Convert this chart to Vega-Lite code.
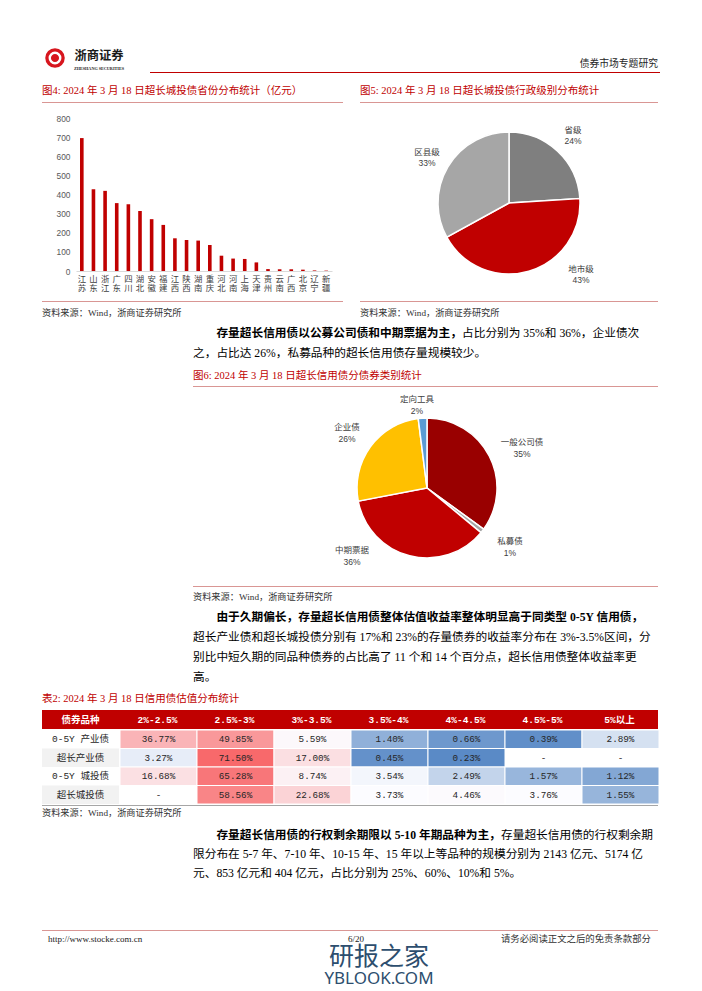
{
"$schema":"https://vega.github.io/schema/vega-lite/v6.json",
"padding":0,
"background":"white",
"spacing":0,
"resolve":{"scale":{"color":"independent","theta":"independent"}},
"config":{
 "view":{"stroke":null},
 "text":{"font":"'Liberation Serif', 'Noto Sans CJK SC'","fontSize":11.7,"color":"#000000","baseline":"middle"}
},
"vconcat":[
 {"hconcat":[
  {"width":43,"height":80,"data":{"values":[]},"mark":"point"},
  {"vconcat":[
   {"width":24,"height":47,"data":{"values":[]},"mark":"point"},
   {"width":24,"height":22,"data":{"values":[{"brand":"浙商证券"}]},"layer":[
     {"mark":{"type":"point","shape":"circle","filled":true,"color":"#d7161e","opacity":1,"size":380}},
     {"mark":{"type":"point","shape":"circle","filled":false,"color":"#ffffff","opacity":1,"size":110,"strokeWidth":2.4}}
   ]},
   {"width":24,"height":11,"data":{"values":[]},"mark":"point"}
  ],"spacing":0},
  {"width":6,"height":80,"data":{"values":[]},"mark":"point"},
  {"vconcat":[
   {"width":50,"height":47,"data":{"values":[]},"mark":"point"},
   {"width":50,"height":18,"data":{"values":[{"t":"浙商证券"}]},"mark":{"type":"text","fontSize":12.3,"fontWeight":"bold","font":"'Noto Sans CJK SC'","color":"#1a1a1a"},"encoding":{"text":{"field":"t"}}},
   {"width":50,"height":8,"data":{"values":[{"t":"ZHESHANG SECURITIES"}]},"mark":{"type":"text","fontSize":4.2,"fontWeight":"bold","font":"'Liberation Serif'","color":"#1a1a1a"},"encoding":{"text":{"field":"t"}}},
   {"width":50,"height":7,"data":{"values":[]},"mark":"point"}
  ],"spacing":0},
  {"width":25,"height":80,"data":{"values":[]},"mark":"point"},
  {"vconcat":[
   {"width":510,"height":57,"data":{"values":[]},"mark":"point"},
   {"width":510,"height":14,"data":{"values":[{"t":"债券市场专题研究"}]},"mark":{"type":"text","align":"right","fontSize":9.8,"dx":-2,"color":"#262626"},"encoding":{"x":{"value":"width"},"text":{"field":"t"}}},
   {"width":510,"height":1,"data":{"values":[]},"mark":"point"},
   {"width":510,"height":1,"data":{"values":[]},"mark":"point","view":{"fill":"#c00000","stroke":null}},
   {"width":510,"height":7,"data":{"values":[]},"mark":"point"}
  ],"spacing":0}
 ],"spacing":0},

 {"hconcat":[
  {"width":42,"height":23,"data":{"values":[]},"mark":"point"},
  {"vconcat":[
   {"width":301,"height":22,"data":{"values":[{"t":"图4:  2024 年 3 月 18 日超长城投债省份分布统计（亿元）"}]},"mark":{"type":"text","align":"left","fontSize":10.5,"color":"#c00000"},"encoding":{"x":{"value":0},"text":{"field":"t"}}},
   {"width":301,"height":1,"data":{"values":[]},"mark":"point","view":{"fill":"#d99694","stroke":null}}
  ],"spacing":0},
  {"width":17,"height":23,"data":{"values":[]},"mark":"point"},
  {"vconcat":[
   {"width":298,"height":22,"data":{"values":[{"t":"图5:  2024 年 3 月 18 日超长城投债行政级别分布统计"}]},"mark":{"type":"text","align":"left","fontSize":10.5,"color":"#c00000"},"encoding":{"x":{"value":0},"text":{"field":"t"}}},
   {"width":298,"height":1,"data":{"values":[]},"mark":"point","view":{"fill":"#d99694","stroke":null}}
  ],"spacing":0}
 ],"spacing":0},

 {"hconcat":[
  {"width":56,"height":198,"data":{"values":[]},"mark":"point"},
  {"vconcat":[
   {"width":256,"height":15,"data":{"values":[]},"mark":"point"},
   {"width":256,"height":153,
    "data":{"values":[
     {"province":"江苏","value":695},{"province":"山东","value":428},{"province":"浙江","value":419},{"province":"广东","value":355},
     {"province":"四川","value":349},{"province":"湖北","value":314},{"province":"安徽","value":271},{"province":"福建","value":241},
     {"province":"江西","value":171},{"province":"陕西","value":162},{"province":"湖南","value":159},{"province":"重庆","value":136},
     {"province":"河北","value":80},{"province":"河南","value":65},{"province":"上海","value":63},{"province":"天津","value":45},
     {"province":"贵州","value":10},{"province":"云南","value":9},{"province":"广西","value":9},{"province":"北京","value":7},
     {"province":"辽宁","value":3},{"province":"新疆","value":2}
    ]},
    "mark":{"type":"bar","color":"#c00000","size":3.6},
    "encoding":{
     "x":{"field":"province","type":"nominal","sort":null,"scale":{"paddingInner":0,"paddingOuter":0},
      "axis":{"title":null,"labelAngle":0,"ticks":false,"domainColor":"#d9d9d9","domainWidth":1,"labelExpr":"split(datum.label,'')","labelFont":"'Noto Sans CJK SC'","labelFontSize":8.4,"labelLineHeight":9.6,"labelPadding":3,"labelColor":"#404040","labelBaseline":"top"}},
     "y":{"field":"value","type":"quantitative","scale":{"domain":[0,800],"nice":false},
      "axis":{"title":null,"values":[0,100,200,300,400,500,600,700,800],"grid":false,"domain":false,"ticks":false,"labelFont":"'Liberation Sans'","labelFontSize":8.4,"labelColor":"#595959","labelPadding":6}}
    }},
   {"width":256,"height":30,"data":{"values":[]},"mark":"point"}
  ],"spacing":0,"bounds":"flush"},
  {"width":79,"height":198,"data":{"values":[]},"mark":"point"},
  {"vconcat":[
   {"width":196,"height":2,"data":{"values":[]},"mark":"point"},
   {"width":196,"height":196,
    "data":{"values":[{"level":"省级","share":0.24,"n":1},{"level":"地市级","share":0.43,"n":2},{"level":"区县级","share":0.33,"n":3}]},
    "layer":[
     {"mark":{"type":"arc","outerRadius":71,"stroke":"#ffffff","strokeWidth":1.5},"encoding":{"theta":{"field":"share","type":"quantitative","stack":true},"order":{"field":"n","type":"quantitative"},"color":{"field":"level","type":"nominal","scale":{"domain":["省级","地市级","区县级"],"range":["#7f7f7f","#c00000","#a6a6a6"]},"legend":null}}},
     {"transform":[{"stack":"share","groupby":[],"sort":[{"field":"n","order":"ascending"}],"as":["s0","s1"]},{"filter":"datum.level === '省级'"}],
      "mark":{"type":"text","radius":92.7,"thetaOffset":0.763,"dy":-5.5,"fontSize":8.5,"font":"'Liberation Sans', 'Noto Sans CJK SC'","color":"#404040"},
      "encoding":{"theta":{"field":"s0","type":"quantitative","stack":null},"text":{"field":"level"}}},
     {"transform":[{"stack":"share","groupby":[],"sort":[{"field":"n","order":"ascending"}],"as":["s0","s1"]},{"filter":"datum.level === '省级'"}],
      "mark":{"type":"text","radius":92.7,"thetaOffset":0.763,"dy":5.5,"fontSize":8.5,"font":"'Liberation Sans', 'Noto Sans CJK SC'","color":"#404040"},
      "encoding":{"theta":{"field":"s0","type":"quantitative","stack":null},"text":{"field":"share","type":"quantitative","format":".0%"}}},
     {"transform":[{"stack":"share","groupby":[],"sort":[{"field":"n","order":"ascending"}],"as":["s0","s1"]},{"filter":"datum.level === '地市级'"}],
      "mark":{"type":"text","radius":101.5,"thetaOffset":0.845,"dy":-5.5,"fontSize":8.5,"font":"'Liberation Sans', 'Noto Sans CJK SC'","color":"#404040"},
      "encoding":{"theta":{"field":"s0","type":"quantitative","stack":null},"text":{"field":"level"}}},
     {"transform":[{"stack":"share","groupby":[],"sort":[{"field":"n","order":"ascending"}],"as":["s0","s1"]},{"filter":"datum.level === '地市级'"}],
      "mark":{"type":"text","radius":101.5,"thetaOffset":0.845,"dy":5.5,"fontSize":8.5,"font":"'Liberation Sans', 'Noto Sans CJK SC'","color":"#404040"},
      "encoding":{"theta":{"field":"s0","type":"quantitative","stack":null},"text":{"field":"share","type":"quantitative","format":".0%"}}},
     {"transform":[{"stack":"share","groupby":[],"sort":[{"field":"n","order":"ascending"}],"as":["s0","s1"]},{"filter":"datum.level === '区县级'"}],
      "mark":{"type":"text","radius":94,"thetaOffset":1.014,"dy":-5.5,"fontSize":8.5,"font":"'Liberation Sans', 'Noto Sans CJK SC'","color":"#404040"},
      "encoding":{"theta":{"field":"s0","type":"quantitative","stack":null},"text":{"field":"level"}}},
     {"transform":[{"stack":"share","groupby":[],"sort":[{"field":"n","order":"ascending"}],"as":["s0","s1"]},{"filter":"datum.level === '区县级'"}],
      "mark":{"type":"text","radius":94,"thetaOffset":1.014,"dy":5.5,"fontSize":8.5,"font":"'Liberation Sans', 'Noto Sans CJK SC'","color":"#404040"},
      "encoding":{"theta":{"field":"s0","type":"quantitative","stack":null},"text":{"field":"share","type":"quantitative","format":".0%"}}}
    ]}
  ],"spacing":0,"resolve":{"scale":{"color":"independent","theta":"independent"}}}
 ],"spacing":0,"resolve":{"scale":{"color":"independent","theta":"independent"}}},

 {"hconcat":[
  {"width":42,"height":1,"data":{"values":[]},"mark":"point"},
  {"width":301,"height":1,"data":{"values":[]},"mark":"point","view":{"fill":"#d99694","stroke":null}},
  {"width":17,"height":1,"data":{"values":[]},"mark":"point"},
  {"width":298,"height":1,"data":{"values":[]},"mark":"point","view":{"fill":"#d99694","stroke":null}}
 ],"spacing":0},

 {"hconcat":[
  {"width":42,"height":21,"data":{"values":[]},"mark":"point"},
  {"width":301,"height":21,"data":{"values":[{"t":"资料来源：Wind，浙商证券研究所"}]},"mark":{"type":"text","align":"left","fontSize":9.2,"color":"#333333"},"encoding":{"x":{"value":0},"text":{"field":"t"}}},
  {"width":17,"height":21,"data":{"values":[]},"mark":"point"},
  {"width":298,"height":21,"data":{"values":[{"t":"资料来源：Wind，浙商证券研究所"}]},"mark":{"type":"text","align":"left","fontSize":9.2,"color":"#333333"},"encoding":{"x":{"value":0},"text":{"field":"t"}}}
 ],"spacing":0},

 {"hconcat":[
  {"width":193,"height":40,"data":{"values":[]},"mark":"point"},
  {"width":465,"height":40,
   "data":{"values":[
    {"line":1,"seg":"b","t":"存量超长信用债以公募公司债和中期票据为主，"},
    {"line":1,"seg":"c","t":"占比分别为 35%和 36%，企业债次"},
    {"line":2,"seg":"n","t":"之，占比达 26%，私募品种的超长信用债存量规模较少。"}
   ]},
   "encoding":{"y":{"field":"line","type":"ordinal","axis":null},"x":{"value":0},"text":{"field":"t"}},
   "layer":[
    {"transform":[{"filter":"datum.seg === 'b'"}],"mark":{"type":"text","align":"left","fontWeight":"bold","dx":23.4}},
    {"transform":[{"filter":"datum.seg === 'c'"}],"mark":{"type":"text","align":"left","dx":269}},
    {"transform":[{"filter":"datum.seg === 'n'"}],"mark":{"type":"text","align":"left"}}
   ]}
 ],"spacing":0},

 {"hconcat":[
  {"width":193,"height":24,"data":{"values":[]},"mark":"point"},
  {"vconcat":[
   {"width":465,"height":23,"data":{"values":[{"t":"图6:  2024 年 3 月 18 日超长信用债分债券类别统计"}]},"mark":{"type":"text","align":"left","fontSize":10.5,"color":"#c00000","dy":1.5},"encoding":{"x":{"value":0},"text":{"field":"t"}}},
   {"width":465,"height":1,"data":{"values":[]},"mark":"point","view":{"fill":"#d99694","stroke":null}}
  ],"spacing":0}
 ],"spacing":0},

 {"hconcat":[
  {"width":309,"height":199,"data":{"values":[]},"mark":"point"},
  {"vconcat":[
   {"width":236,"height":3,"data":{"values":[]},"mark":"point"},
   {"width":236,"height":196,
    "data":{"values":[
     {"kind":"一般公司债","share":0.35,"n":1},{"kind":"私募债","share":0.01,"n":2},{"kind":"中期票据","share":0.36,"n":3},
     {"kind":"企业债","share":0.26,"n":4},{"kind":"定向工具","share":0.02,"n":5}
    ]},
    "layer":[
     {"mark":{"type":"arc","outerRadius":70,"stroke":"#ffffff","strokeWidth":1.5},"encoding":{"theta":{"field":"share","type":"quantitative","stack":true},"order":{"field":"n","type":"quantitative"},"color":{"field":"kind","type":"nominal","scale":{"domain":["一般公司债","私募债","中期票据","企业债","定向工具"],"range":["#990000","#a6a6a6","#c00000","#ffc000","#5b9bd5"]},"legend":null}}},
     {"transform":[{"stack":"share","groupby":[],"sort":[{"field":"n","order":"ascending"}],"as":["s0","s1"]},{"filter":"datum.kind === '一般公司债'"}],
      "mark":{"type":"text","radius":103,"thetaOffset":1.173,"dy":-6,"fontSize":8.5,"font":"'Liberation Sans', 'Noto Sans CJK SC'","color":"#404040"},
      "encoding":{"theta":{"field":"s0","type":"quantitative","stack":null},"text":{"field":"kind"}}},
     {"transform":[{"stack":"share","groupby":[],"sort":[{"field":"n","order":"ascending"}],"as":["s0","s1"]},{"filter":"datum.kind === '一般公司债'"}],
      "mark":{"type":"text","radius":103,"thetaOffset":1.173,"dy":6,"fontSize":8.5,"font":"'Liberation Sans', 'Noto Sans CJK SC'","color":"#404040"},
      "encoding":{"theta":{"field":"s0","type":"quantitative","stack":null},"text":{"field":"share","type":"quantitative","format":".0%"}}},
     {"transform":[{"stack":"share","groupby":[],"sort":[{"field":"n","order":"ascending"}],"as":["s0","s1"]},{"filter":"datum.kind === '私募债'"}],
      "mark":{"type":"text","radius":102,"thetaOffset":-0.007,"dy":-6,"fontSize":8.5,"font":"'Liberation Sans', 'Noto Sans CJK SC'","color":"#404040"},
      "encoding":{"theta":{"field":"s0","type":"quantitative","stack":null},"text":{"field":"kind"}}},
     {"transform":[{"stack":"share","groupby":[],"sort":[{"field":"n","order":"ascending"}],"as":["s0","s1"]},{"filter":"datum.kind === '私募债'"}],
      "mark":{"type":"text","radius":102,"thetaOffset":-0.007,"dy":6,"fontSize":8.5,"font":"'Liberation Sans', 'Noto Sans CJK SC'","color":"#404040"},
      "encoding":{"theta":{"field":"s0","type":"quantitative","stack":null},"text":{"field":"share","type":"quantitative","format":".0%"}}},
     {"transform":[{"stack":"share","groupby":[],"sort":[{"field":"n","order":"ascending"}],"as":["s0","s1"]},{"filter":"datum.kind === '中期票据'"}],
      "mark":{"type":"text","radius":101,"thetaOffset":1.717,"dy":-6,"fontSize":8.5,"font":"'Liberation Sans', 'Noto Sans CJK SC'","color":"#404040"},
      "encoding":{"theta":{"field":"s0","type":"quantitative","stack":null},"text":{"field":"kind"}}},
     {"transform":[{"stack":"share","groupby":[],"sort":[{"field":"n","order":"ascending"}],"as":["s0","s1"]},{"filter":"datum.kind === '中期票据'"}],
      "mark":{"type":"text","radius":101,"thetaOffset":1.717,"dy":6,"fontSize":8.5,"font":"'Liberation Sans', 'Noto Sans CJK SC'","color":"#404040"},
      "encoding":{"theta":{"field":"s0","type":"quantitative","stack":null},"text":{"field":"share","type":"quantitative","format":".0%"}}},
     {"transform":[{"stack":"share","groupby":[],"sort":[{"field":"n","order":"ascending"}],"as":["s0","s1"]},{"filter":"datum.kind === '企业债'"}],
      "mark":{"type":"text","radius":97,"thetaOffset":0.791,"dy":-6,"fontSize":8.5,"font":"'Liberation Sans', 'Noto Sans CJK SC'","color":"#404040"},
      "encoding":{"theta":{"field":"s0","type":"quantitative","stack":null},"text":{"field":"kind"}}},
     {"transform":[{"stack":"share","groupby":[],"sort":[{"field":"n","order":"ascending"}],"as":["s0","s1"]},{"filter":"datum.kind === '企业债'"}],
      "mark":{"type":"text","radius":97,"thetaOffset":0.791,"dy":6,"fontSize":8.5,"font":"'Liberation Sans', 'Noto Sans CJK SC'","color":"#404040"},
      "encoding":{"theta":{"field":"s0","type":"quantitative","stack":null},"text":{"field":"share","type":"quantitative","format":".0%"}}},
     {"transform":[{"stack":"share","groupby":[],"sort":[{"field":"n","order":"ascending"}],"as":["s0","s1"]},{"filter":"datum.kind === '定向工具'"}],
      "mark":{"type":"text","radius":83.6,"thetaOffset":0.005,"dy":-6,"fontSize":8.5,"font":"'Liberation Sans', 'Noto Sans CJK SC'","color":"#404040"},
      "encoding":{"theta":{"field":"s0","type":"quantitative","stack":null},"text":{"field":"kind"}}},
     {"transform":[{"stack":"share","groupby":[],"sort":[{"field":"n","order":"ascending"}],"as":["s0","s1"]},{"filter":"datum.kind === '定向工具'"}],
      "mark":{"type":"text","radius":83.6,"thetaOffset":0.005,"dy":6,"fontSize":8.5,"font":"'Liberation Sans', 'Noto Sans CJK SC'","color":"#404040"},
      "encoding":{"theta":{"field":"s0","type":"quantitative","stack":null},"text":{"field":"share","type":"quantitative","format":".0%"}}}
    ]}
  ],"spacing":0,"resolve":{"scale":{"color":"independent","theta":"independent"}}}
 ],"spacing":0,"resolve":{"scale":{"color":"independent","theta":"independent"}}},

 {"hconcat":[
  {"width":193,"height":1,"data":{"values":[]},"mark":"point"},
  {"width":465,"height":1,"data":{"values":[]},"mark":"point","view":{"fill":"#d99694","stroke":null}}
 ],"spacing":0},

 {"hconcat":[
  {"width":193,"height":20,"data":{"values":[]},"mark":"point"},
  {"width":465,"height":20,"data":{"values":[{"t":"资料来源：Wind，浙商证券研究所"}]},"mark":{"type":"text","align":"left","fontSize":9.2,"color":"#333333"},"encoding":{"x":{"value":0},"text":{"field":"t"}}}
 ],"spacing":0},

 {"hconcat":[
  {"width":193,"height":80,"data":{"values":[]},"mark":"point"},
  {"width":465,"height":80,
   "data":{"values":[
    {"line":1,"seg":"b","t":"由于久期偏长，存量超长信用债整体估值收益率整体明显高于同类型 0-5Y 信用债，"},
    {"line":2,"seg":"n","t":"超长产业债和超长城投债分别有 17%和 23%的存量债券的收益率分布在 3%-3.5%区间，分"},
    {"line":3,"seg":"n","t":"别比中短久期的同品种债券的占比高了 11 个和 14 个百分点，超长信用债整体收益率更"},
    {"line":4,"seg":"n","t":"高。"}
   ]},
   "encoding":{"y":{"field":"line","type":"ordinal","axis":null},"x":{"value":0},"text":{"field":"t"}},
   "layer":[
    {"transform":[{"filter":"datum.seg === 'b'"}],"mark":{"type":"text","align":"left","fontWeight":"bold","dx":23.4}},
    {"transform":[{"filter":"datum.seg === 'n'"}],"mark":{"type":"text","align":"left"}}
   ]}
 ],"spacing":0},

 {"hconcat":[
  {"width":42,"height":23,"data":{"values":[]},"mark":"point"},
  {"width":616,"height":23,"data":{"values":[{"t":"表2:  2024 年 3 月 18 日信用债估值分布统计"}]},"mark":{"type":"text","align":"left","fontSize":10.5,"color":"#c00000"},"encoding":{"x":{"value":0},"text":{"field":"t"}}}
 ],"spacing":0},

 {"hconcat":[
  {"width":42,"height":19,"data":{"values":[]},"mark":"point"},
  {"width":616,"height":19,"view":{"fill":"#c00000","stroke":null},
   "data":{"values":[{"col":"债券品种"},{"col":"2%-2.5%"},{"col":"2.5%-3%"},{"col":"3%-3.5%"},{"col":"3.5%-4%"},{"col":"4%-4.5%"},{"col":"4.5%-5%"},{"col":"5%以上"}]},
   "mark":{"type":"text","fontWeight":"bold","fontSize":9.5,"font":"'Liberation Mono', 'Noto Sans CJK SC'","color":"#ffffff"},
   "encoding":{"x":{"field":"col","type":"nominal","sort":null,"axis":null},"text":{"field":"col"}}}
 ],"spacing":0},

 {"hconcat":[
  {"width":42,"height":74,"data":{"values":[]},"mark":"point"},
  {"width":77,"height":74,
   "data":{"values":[{"type":"0-5Y 产业债"},{"type":"超长产业债"},{"type":"0-5Y 城投债"},{"type":"超长城投债"}]},
   "encoding":{"y":{"field":"type","type":"nominal","sort":null,"axis":null,"scale":{"paddingInner":0,"paddingOuter":0}}},
   "layer":[
    {"mark":{"type":"rect"},"encoding":{"x":{"value":0},"x2":{"value":"width"},"color":{"field":"type","type":"nominal","scale":{"domain":["0-5Y 产业债","超长产业债","0-5Y 城投债","超长城投债"],"range":["#ffffff","#f2f2f2","#ffffff","#f2f2f2"]},"legend":null}}},
    {"mark":{"type":"text","fontSize":9.5,"font":"'Liberation Mono', 'Noto Sans CJK SC'","color":"#262626"},"encoding":{"text":{"field":"type"}}}
   ]},
  {"width":539,"height":74,
   "data":{"values":[
    {"type":"0-5Y 产业债","range":"2%-2.5%","v":0.3677},{"type":"0-5Y 产业债","range":"2.5%-3%","v":0.4985},{"type":"0-5Y 产业债","range":"3%-3.5%","v":0.0559},{"type":"0-5Y 产业债","range":"3.5%-4%","v":0.0140},{"type":"0-5Y 产业债","range":"4%-4.5%","v":0.0066},{"type":"0-5Y 产业债","range":"4.5%-5%","v":0.0039},{"type":"0-5Y 产业债","range":"5%以上","v":0.0289},
    {"type":"超长产业债","range":"2%-2.5%","v":0.0327},{"type":"超长产业债","range":"2.5%-3%","v":0.7150},{"type":"超长产业债","range":"3%-3.5%","v":0.1700},{"type":"超长产业债","range":"3.5%-4%","v":0.0045},{"type":"超长产业债","range":"4%-4.5%","v":0.0023},{"type":"超长产业债","range":"4.5%-5%","v":null},{"type":"超长产业债","range":"5%以上","v":null},
    {"type":"0-5Y 城投债","range":"2%-2.5%","v":0.1668},{"type":"0-5Y 城投债","range":"2.5%-3%","v":0.6528},{"type":"0-5Y 城投债","range":"3%-3.5%","v":0.0874},{"type":"0-5Y 城投债","range":"3.5%-4%","v":0.0354},{"type":"0-5Y 城投债","range":"4%-4.5%","v":0.0249},{"type":"0-5Y 城投债","range":"4.5%-5%","v":0.0157},{"type":"0-5Y 城投债","range":"5%以上","v":0.0112},
    {"type":"超长城投债","range":"2%-2.5%","v":null},{"type":"超长城投债","range":"2.5%-3%","v":0.5856},{"type":"超长城投债","range":"3%-3.5%","v":0.2268},{"type":"超长城投债","range":"3.5%-4%","v":0.0373},{"type":"超长城投债","range":"4%-4.5%","v":0.0446},{"type":"超长城投债","range":"4.5%-5%","v":0.0376},{"type":"超长城投债","range":"5%以上","v":0.0155}
   ]},
   "encoding":{
    "x":{"field":"range","type":"nominal","sort":null,"axis":null,"scale":{"paddingInner":0,"paddingOuter":0}},
    "y":{"field":"type","type":"nominal","sort":null,"axis":null,"scale":{"paddingInner":0,"paddingOuter":0}}
   },
   "layer":[
    {"mark":{"type":"rect","stroke":"#ffffff","strokeWidth":1},"encoding":{"color":{"field":"v","type":"quantitative","scale":{"type":"linear","domain":[0.0023,0.0373,0.715],"range":["#5a8ac6","#fcfcff","#f8696b"],"interpolate":"rgb"},"legend":null}}},
    {"mark":{"type":"text","fontSize":9.3,"font":"'Liberation Mono', 'Noto Sans CJK SC'","color":"#262626"},"encoding":{"text":{"condition":{"test":"datum.v === null","value":"-"},"field":"v","type":"quantitative","format":".2%"}}}
   ]}
 ],"spacing":0,"resolve":{"scale":{"color":"independent"}}},

 {"hconcat":[
  {"width":42,"height":1,"data":{"values":[]},"mark":"point"},
  {"width":616,"height":1,"data":{"values":[]},"mark":"point","view":{"fill":"#a6a6a6","stroke":null}}
 ],"spacing":0},

 {"hconcat":[
  {"width":42,"height":14,"data":{"values":[]},"mark":"point"},
  {"width":616,"height":14,"data":{"values":[{"t":"资料来源：Wind，浙商证券研究所"}]},"mark":{"type":"text","align":"left","fontSize":9.2,"color":"#333333"},"encoding":{"x":{"value":0},"text":{"field":"t"}}}
 ],"spacing":0},

 {"width":10,"height":5,"data":{"values":[]},"mark":"point"},

 {"hconcat":[
  {"width":193,"height":57,"data":{"values":[]},"mark":"point"},
  {"width":465,"height":57,
   "data":{"values":[
    {"line":1,"seg":"b","t":"存量超长信用债的行权剩余期限以 5-10 年期品种为主，"},
    {"line":1,"seg":"c","t":"存量超长信用债的行权剩余期"},
    {"line":2,"seg":"n","t":"限分布在 5-7 年、7-10 年、10-15 年、15 年以上等品种的规模分别为 2143 亿元、5174 亿"},
    {"line":3,"seg":"n","t":"元、853 亿元和 404 亿元，占比分别为 25%、60%、10%和 5%。"}
   ]},
   "encoding":{"y":{"field":"line","type":"ordinal","axis":null},"x":{"value":0},"text":{"field":"t"}},
   "layer":[
    {"transform":[{"filter":"datum.seg === 'b'"}],"mark":{"type":"text","align":"left","fontWeight":"bold","dx":23.4}},
    {"transform":[{"filter":"datum.seg === 'c'"}],"mark":{"type":"text","align":"left","dx":308}},
    {"transform":[{"filter":"datum.seg === 'n'"}],"mark":{"type":"text","align":"left"}}
   ]}
 ],"spacing":0},

 {"width":10,"height":48,"data":{"values":[]},"mark":"point"},

 {"hconcat":[
  {"width":42,"height":1,"data":{"values":[]},"mark":"point"},
  {"width":616,"height":1,"data":{"values":[]},"mark":"point","view":{"fill":"#d99694","stroke":null}}
 ],"spacing":0},

 {"hconcat":[
  {"width":42,"height":12,"data":{"values":[]},"mark":"point"},
  {"width":212,"height":12,"data":{"values":[{"t":"http://www.stocke.com.cn"}]},"mark":{"type":"text","align":"left","fontSize":9,"dx":6,"dy":1.5,"color":"#1a1a1a"},"encoding":{"x":{"value":0},"text":{"field":"t"}}},
  {"width":204,"height":12,"data":{"values":[{"t":"6/20"}]},"mark":{"type":"text","fontSize":9,"dy":1.5,"color":"#1a1a1a"},"encoding":{"text":{"field":"t"}}},
  {"width":200,"height":12,"data":{"values":[{"t":"请务必阅读正文之后的免责条款部分"}]},"mark":{"type":"text","align":"right","fontSize":9.4,"dx":-7,"dy":1.5,"color":"#333333"},"encoding":{"x":{"value":"width"},"text":{"field":"t"}}}
 ],"spacing":0},

 {"hconcat":[
  {"width":324,"height":50,"data":{"values":[]},"mark":"point"},
  {"width":102,"height":50,
   "data":{"values":[{"line":1,"t":"研报之家"},{"line":2,"t":"YBLOOK.COM"}]},
   "encoding":{"y":{"field":"line","type":"ordinal","axis":null},"text":{"field":"t"}},
   "layer":[
    {"transform":[{"filter":"datum.line === 1"}],"mark":{"type":"text","fontSize":25,"font":"'Noto Sans CJK SC'","color":"#2d4e6e"}},
    {"transform":[{"filter":"datum.line === 2"}],"mark":{"type":"text","fontSize":17,"dy":-3,"font":"'Noto Sans'","color":"#2d4e6e"}}
   ]}
 ],"spacing":0}
]
}
